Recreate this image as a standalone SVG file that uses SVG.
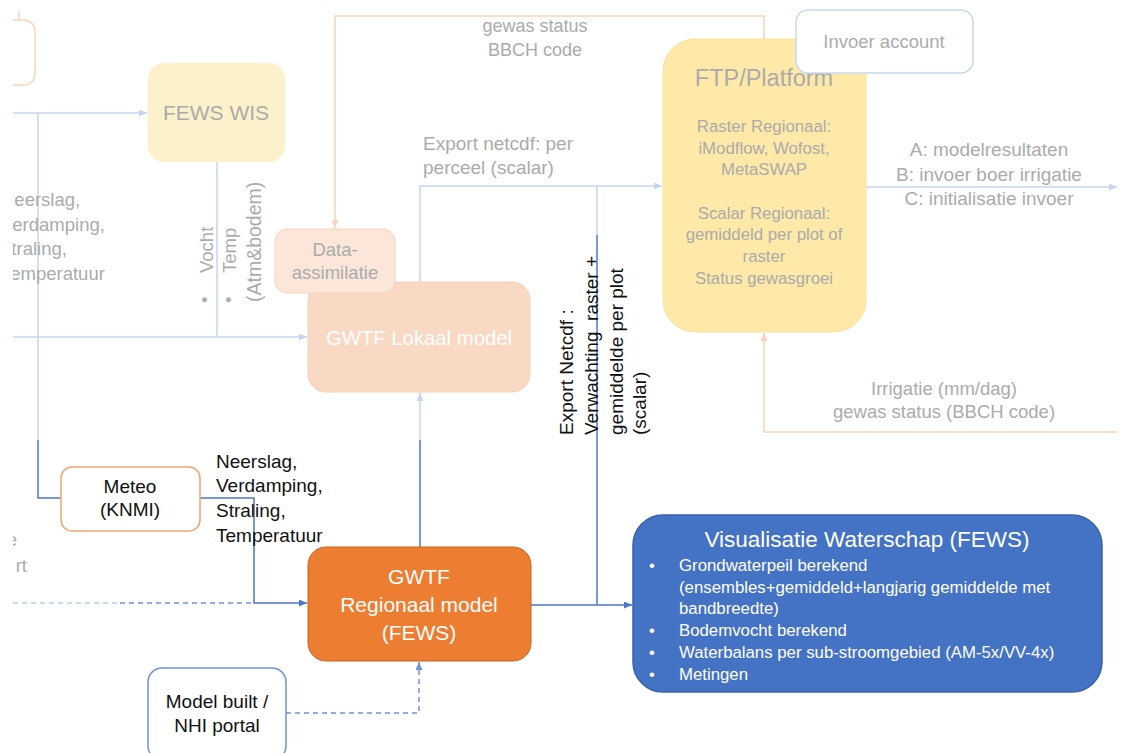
<svg xmlns="http://www.w3.org/2000/svg" width="1122" height="753" viewBox="0 0 1122 753">
<defs>
<style>
text{font-family:"Liberation Sans",Arial,sans-serif;}
.g{fill:#ababab;font-size:18.5px;}
.k{fill:#111;font-size:19px;}
.w{fill:#fff;}
.c{text-anchor:middle;}
.lb{fill:none;stroke:#c6d5f0;stroke-width:1.5;}
.db{fill:none;stroke:#4a78c8;stroke-width:1.5;}
.or{fill:none;stroke:#f9d3bb;stroke-width:1.5;}
.ds{fill:none;stroke:#6f94d6;stroke-width:1.5;stroke-dasharray:5 4;}
.dsl{fill:none;stroke:#b9cbeb;stroke-width:1.5;stroke-dasharray:5 4;}
.pre{white-space:pre;}
</style>
<marker id="alb" markerWidth="9" markerHeight="8" refX="8" refY="3.5" orient="auto" markerUnits="userSpaceOnUse"><path d="M0,0 L8,3.5 L0,7 z" fill="#c6d5f0"/></marker>
<marker id="adb" markerWidth="9" markerHeight="8" refX="8" refY="3.5" orient="auto" markerUnits="userSpaceOnUse"><path d="M0,0 L8,3.5 L0,7 z" fill="#4a78c8"/></marker>
<marker id="aor" markerWidth="9" markerHeight="8" refX="8" refY="3.5" orient="auto" markerUnits="userSpaceOnUse"><path d="M0,0 L8,3.5 L0,7 z" fill="#f9d3bb"/></marker>
<marker id="ads" markerWidth="9" markerHeight="8" refX="8" refY="3.5" orient="auto" markerUnits="userSpaceOnUse"><path d="M0,0 L8,3.5 L0,7 z" fill="#6f94d6"/></marker>
<clipPath id="clipL"><rect x="13" y="0" width="1109" height="753"/></clipPath>
</defs>
<rect x="0" y="0" width="1122" height="753" fill="#fff"/>

<g id="connectors">
<path class="lb" d="M13,113 H147" marker-end="url(#alb)"/>
<path class="lb" d="M38,113 V440"/>
<path class="db" d="M38,440 V498 H61"/>
<path class="lb" d="M217,162 V337"/>
<path class="lb" d="M13,337 H307" marker-end="url(#alb)"/>
<path class="or" d="M764,39 V16 H335 V228" marker-end="url(#aor)"/>
<path class="lb" d="M420,282 V186 H662" marker-end="url(#alb)"/>
<path class="lb" d="M597,186 V235"/>
<path class="db" d="M597,235 V605"/>
<path class="lb" d="M866,187 H1117" marker-end="url(#alb)"/>
<path class="or" d="M1117,432 H764 V333" marker-end="url(#aor)"/>
<path class="db" d="M200,498 H254 V603 H307" marker-end="url(#adb)"/>
<path class="dsl" d="M13,603 H120"/>
<path class="ds" d="M120,603 H254"/>
<path class="db" d="M420,547 V440"/>
<path class="lb" d="M420,440 V393" marker-end="url(#alb)"/>
<path class="db" d="M531,605 H632" marker-end="url(#adb)"/>
<path class="ds" d="M286,713 H419 V662" marker-end="url(#ads)"/>
</g>

<g id="partial-left" clip-path="url(#clipL)">
<rect x="-20" y="20" width="55" height="65" rx="11" fill="#fff" stroke="#fbd5bb" stroke-width="1.5"/>
<path d="M19,11 V20" stroke="#fbd5bb" stroke-width="1.5"/>
<text class="g" x="1" y="206">Neerslag,</text>
<text class="g" x="1" y="231">Verdamping,</text>
<text class="g" x="-1" y="255">Straling,</text>
<text class="g" x="1" y="280">Temperatuur</text>
<text class="g" x="17" y="546" text-anchor="end">e</text>
<text class="g" x="27" y="572" text-anchor="end">rt</text>
</g>

<g id="fews-wis">
<rect x="148" y="63" width="137" height="99" rx="16" fill="#fdf1cc"/>
<text class="g c" x="216" y="120" style="font-size:21px">FEWS WIS</text>
</g>

<g id="vocht-temp-label">
<text class="g" transform="translate(211,303) rotate(-90)">•</text>
<text class="g" transform="translate(213,273) rotate(-90)">Vocht</text>
<text class="g" transform="translate(235,303) rotate(-90)">•</text>
<text class="g" transform="translate(236,273) rotate(-90)">Temp</text>
<text class="g" transform="translate(261,302) rotate(-90)" style="font-size:19.5px">(Atm&amp;bodem)</text>
</g>

<g id="gewas-label">
<text class="g c" x="535" y="32" style="font-size:18px">gewas status</text>
<text class="g c" x="535" y="56" style="font-size:18px">BBCH code</text>
</g>

<g id="export-label">
<text class="g" x="423" y="150" style="font-size:19px">Export netcdf: per</text>
<text class="g" x="423" y="174" style="font-size:19px">perceel (scalar)</text>
</g>

<g id="gwtf-lokaal">
<rect x="308" y="282" width="222" height="110" rx="18" fill="#f9d9c3" stroke="#f6d0b6" stroke-width="1"/>
<text class="w c" x="419" y="345" style="font-size:20.3px">GWTF Lokaal model</text>
</g>

<g id="data-assimilatie">
<rect x="275" y="229" width="120" height="64" rx="12" fill="#fbe6d9" stroke="#f8d4bd" stroke-width="1"/>
<text class="g c" x="335" y="256">Data-</text>
<text class="g c" x="335" y="279">assimilatie</text>
</g>

<g id="ftp-platform">
<rect x="663" y="39" width="203" height="293" rx="32" fill="#fee9a8" stroke="#fce39a" stroke-width="1"/>
<text class="g c" x="764" y="86" style="font-size:23.5px">FTP/Platform</text>
<g class="g c" style="font-size:16.8px">
<text x="764" y="132">Raster Regionaal:</text>
<text x="764" y="154">iModflow, Wofost,</text>
<text x="764" y="175">MetaSWAP</text>
<text x="764" y="219">Scalar Regionaal:</text>
<text x="764" y="240">gemiddeld per plot of</text>
<text x="764" y="262">raster</text>
<text x="764" y="284">Status gewasgroei</text>
</g>
</g>

<g id="invoer-account">
<rect x="796" y="10" width="177" height="63" rx="12" fill="#fff" stroke="#c9d7f0" stroke-width="1.5"/>
<text class="g c" x="884" y="48">Invoer account</text>
</g>

<g id="abc-label">
<text class="g c" x="989" y="156" style="font-size:19px">A: modelresultaten</text>
<text class="g c" x="989" y="181" style="font-size:19px">B: invoer boer irrigatie</text>
<text class="g c" x="989" y="205" style="font-size:19px">C: initialisatie invoer</text>
</g>

<g id="irrigatie-label">
<text class="g c" x="944" y="395">Irrigatie (mm/dag)</text>
<text class="g c" x="944" y="418">gewas status (BBCH code)</text>
</g>

<g id="export-netcdf-label">
<text class="k" transform="translate(573,435) rotate(-90)">Export Netcdf :</text>
<text class="k pre" transform="translate(598,435) rotate(-90)">Verwachting  raster +</text>
<text class="k" transform="translate(623,435) rotate(-90)">gemiddelde per plot</text>
<text class="k" transform="translate(646,435) rotate(-90)">(scalar)</text>
</g>

<g id="meteo">
<rect x="61" y="467" width="139" height="64" rx="11" fill="#fff" stroke="#f0a470" stroke-width="1.5"/>
<text class="k c" x="130" y="493">Meteo</text>
<text class="k c" x="130" y="516">(KNMI)</text>
</g>

<g id="meteo-label">
<text class="k" x="216" y="468">Neerslag,</text>
<text class="k" x="216" y="492">Verdamping,</text>
<text class="k" x="216" y="517">Straling,</text>
<text class="k" x="216" y="542">Temperatuur</text>
</g>

<g id="gwtf-regionaal">
<rect x="308" y="547" width="223" height="114" rx="18" fill="#ed7d31" stroke="#c4651f" stroke-width="1"/>
<text class="w c" x="419" y="584" style="font-size:21px">GWTF</text>
<text class="w c" x="419" y="612" style="font-size:21px">Regionaal model</text>
<text class="w c" x="419" y="640" style="font-size:21px">(FEWS)</text>
</g>

<g id="model-built">
<rect x="148" y="668" width="138" height="92" rx="14" fill="#fff" stroke="#6f94d6" stroke-width="1.5"/>
<text class="k c" x="217" y="708">Model built /</text>
<text class="k c" x="217" y="732">NHI portal</text>
</g>

<g id="visualisatie">
<rect x="633" y="515" width="469" height="177" rx="30" fill="#4472c4" stroke="#3a62a8" stroke-width="1.5"/>
<text class="w c" x="867" y="547" style="font-size:22.5px">Visualisatie Waterschap (FEWS)</text>
<g class="w" style="font-size:16.8px">
<text x="649" y="571">•</text>
<text x="679" y="571">Grondwaterpeil berekend</text>
<text x="679" y="593">(ensembles+gemiddeld+langjarig gemiddelde met</text>
<text x="679" y="614">bandbreedte)</text>
<text x="649" y="636">•</text>
<text x="679" y="636">Bodemvocht berekend</text>
<text x="649" y="658">•</text>
<text x="679" y="658">Waterbalans per sub-stroomgebied (AM-5x/VV-4x)</text>
<text x="649" y="680">•</text>
<text x="679" y="680">Metingen</text>
</g>
</g>
</svg>
